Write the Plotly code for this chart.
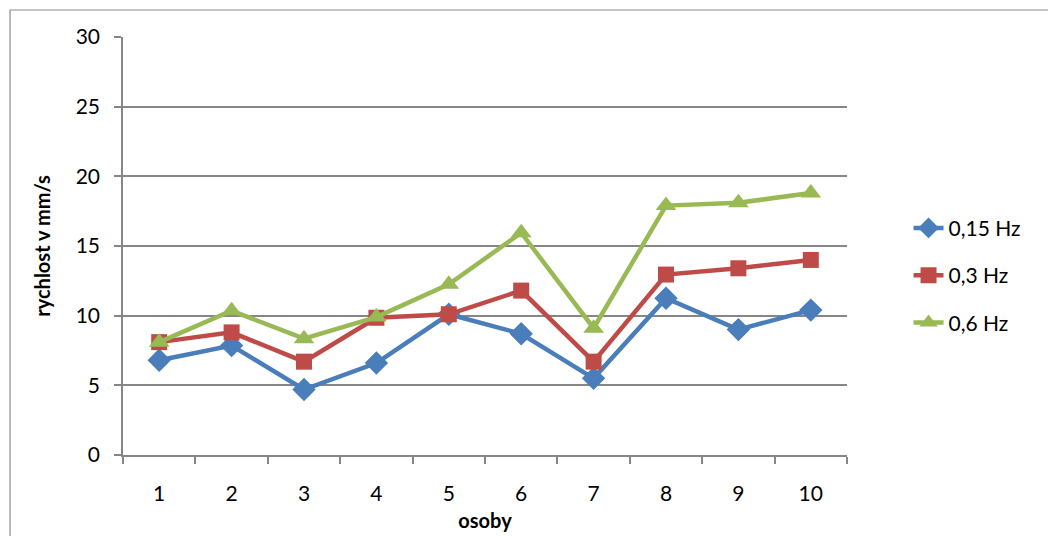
import plotly.graph_objects as go

# Measured speeds per person at three excitation frequencies
osoby = ["1", "2", "3", "4", "5", "6", "7", "8", "9", "10"]
hz_015 = [6.8, 7.85, 4.7, 6.6, 10.1, 8.7, 5.5, 11.25, 9.0, 10.4]
hz_03 = [8.1, 8.8, 6.7, 9.85, 10.1, 11.8, 6.7, 12.95, 13.4, 14.0]
hz_06 = [8.1, 10.35, 8.35, 9.9, 12.25, 15.95, 9.1, 17.9, 18.1, 18.8]
y_ticks = [0, 5, 10, 15, 20, 25, 30]

series = [
    ("0,15 Hz", hz_015, "#4A7EBB", "diamond", 18),
    ("0,3 Hz", hz_03, "#BE4B48", "square", 16),
    ("0,6 Hz", hz_06, "#98B954", "triangle-up", 18),
]

FONT = "Lato, Open Sans, sans-serif"
GRID = "#868686"

fig = go.Figure()
for name, vals, color, symbol, size in series:
    fig.add_trace(go.Scatter(
        x=osoby, y=vals, name=name, mode="lines+markers",
        legendgroup=name,
        line=dict(color=color, width=4.5),
        marker=dict(symbol=symbol, size=size, color=color),
    ))

fig.update_layout(
    width=1048, height=536,
    margin=dict(l=123, r=201, t=37, b=81),
    paper_bgcolor="white", plot_bgcolor="white",
    font=dict(family=FONT, size=21, color="#000000"),
    showlegend=True,
    legend=dict(
        x=1.085, y=0.43, xanchor="left", yanchor="middle",
        font=dict(family=FONT, size=21),
        traceorder="grouped", tracegroupgap=17,
        bgcolor="rgba(0,0,0,0)",
    ),
    xaxis=dict(
        type="category", range=[-0.5, 9.5], showgrid=False, automargin=False,
        showline=True, linecolor=GRID, linewidth=1.5,
        ticks="outside", tickson="boundaries", ticklen=7,
        tickcolor=GRID, tickwidth=1.5,
        ticklabelstandoff=19,
        title=dict(text="<b>osoby</b>", font=dict(family=FONT, size=20), standoff=10),
    ),
    yaxis=dict(
        range=[0, 30], tickvals=y_ticks, automargin=False,
        showgrid=True, gridcolor=GRID, gridwidth=1.5,
        showline=True, linecolor=GRID, linewidth=1.5,
        ticks="outside", ticklen=7, tickcolor=GRID, tickwidth=1.5,
        ticklabelstandoff=10, zeroline=False,
        title=dict(text="<b>rychlost v mm/s</b>", font=dict(family=FONT, size=20), standoff=20),
    ),
    shapes=[dict(
        type="rect", xref="paper", yref="paper",
        x0=-0.156, x1=1.6, y0=-0.5, y1=1.0646,
        line=dict(color="#8C8C8C", width=1.2), fillcolor="rgba(0,0,0,0)",
        layer="below",
    )],
)

fig.write_html("out.html")
